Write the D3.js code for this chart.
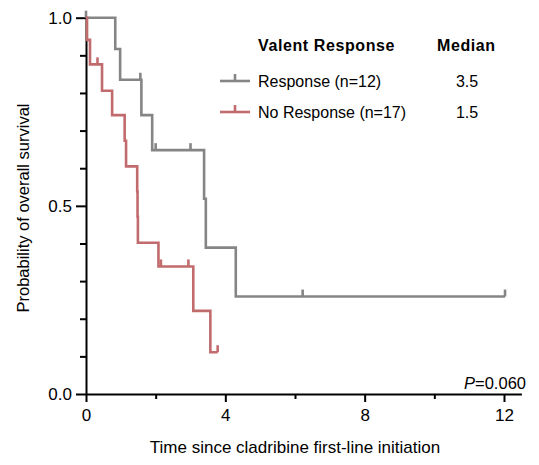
<!DOCTYPE html>
<html>
<head>
<meta charset="utf-8">
<script src="https://cdn.jsdelivr.net/npm/d3@7"></script>
<style>
  body { margin: 0; background: #fff; }
  text { font-family: "Liberation Sans", Arial, sans-serif; }
</style>
</head>
<body>
<script>
// survival steps (time, probability)
let respTimes = [0, 0.84, 0.98, 1.59, 1.9, 3.39, 3.44, 4.3, 12.03];
let respSurv = [1.0, 0.917, 0.835, 0.741, 0.648, 0.519, 0.389, 0.259, 0.259];
let respCensor = [0, 1.56, 2.0, 3.0, 6.22, 12.03];

let noTimes = [0, 0.03, 0.115, 0.46, 0.75, 1.11, 1.15, 1.47, 1.48, 1.49, 2.08, 3.08, 3.57, 3.78];
let noSurv = [1.0, 0.941, 0.876, 0.806, 0.741, 0.673, 0.605, 0.538, 0.471, 0.402, 0.339, 0.221, 0.111, 0.111];
let noCensor = [0.33, 2.15, 2.94, 3.78];

let groups = ["Response (n=12)", "No Response (n=17)"];
let medians = ["3.5", "1.5"];
let colors = ["#858585", "#c26b6d"];

let xMajor = [0, 4, 8, 12];
let xMinor = [2, 6, 10];
let yMajor = [0, 0.5, 1.0];
let yMinor = [0.1, 0.2, 0.3, 0.4, 0.6, 0.7, 0.8, 0.9];

let svg = d3.select("body").append("svg")
	.attr("width", 539)
	.attr("height", 465);

let x = d3.scaleLinear().domain([0, 12.5]).range([86, 521.4]);
let y = d3.scaleLinear().domain([0, 1]).range([394, 17.7]);

// survival curves
let series = [
	{ times: respTimes, surv: respSurv, censor: respCensor },
	{ times: noTimes, surv: noSurv, censor: noCensor }
];

let line = d3.line()
	.x(d => x(d[0]))
	.y(d => y(d[1]))
	.curve(d3.curveStepAfter);

// value of the curve at a given time (for censor ticks)
function survAt(s, t) {
	let v = s.surv[0];
	s.times.forEach((tt, i) => { if (tt <= t) v = s.surv[i]; });
	return v;
}

// axes
let yG = svg.append("g").attr("transform", `translate(${x(0)},0)`);
yG.call(d3.axisLeft(y).tickValues(yMajor).tickFormat(d3.format(".1f")).tickSize(10).tickSizeOuter(0).tickPadding(4));
yG.append("g").call(d3.axisLeft(y).tickValues(yMinor).tickFormat("").tickSize(6).tickSizeOuter(0))
	.select(".domain").remove();

let xG = svg.append("g").attr("transform", `translate(0,${y(0)})`);
xG.call(d3.axisBottom(x).tickValues(xMajor).tickSize(8).tickSizeOuter(0).tickPadding(7));
xG.append("g").call(d3.axisBottom(x).tickValues(xMinor).tickFormat("").tickSize(5).tickSizeOuter(0))
	.select(".domain").remove();

svg.selectAll(".domain, .tick line").attr("stroke", "#000").attr("stroke-width", 2);
svg.selectAll(".tick text").attr("font-size", 17).attr("fill", "#000")
	.attr("font-family", "Liberation Sans, Arial, sans-serif");

series.forEach((s, i) => {
	let pts = s.times.map((t, j) => [t, s.surv[j]]);
	svg.append("path")
		.datum(pts)
		.attr("fill", "none")
		.attr("stroke", colors[i])
		.attr("stroke-width", 2.6)
		.attr("d", line);

	svg.selectAll(null)
		.data(s.censor)
		.enter().append("line")
		.attr("x1", d => x(d)).attr("x2", d => x(d))
		.attr("y1", d => y(survAt(s, d)))
		.attr("y2", d => y(survAt(s, d)) - 7)
		.attr("stroke", colors[i])
		.attr("stroke-width", 2.6);
});

// axis titles
svg.append("text")
	.attr("x", 295).attr("y", 453)
	.attr("text-anchor", "middle")
	.attr("font-size", 17)
	.text("Time since cladribine first-line initiation");

svg.append("text")
	.attr("transform", "translate(29,208) rotate(-90)")
	.attr("text-anchor", "middle")
	.attr("font-size", 16.5)
	.text("Probability of overall survival");

let pText = svg.append("text")
	.attr("x", 526).attr("y", 389)
	.attr("text-anchor", "end")
	.attr("font-size", 16.5);
pText.append("tspan").attr("font-style", "italic").text("P");
pText.append("tspan").text("=0.060");

// legend
let lg = svg.append("g");
lg.append("text").attr("x", 258).attr("y", 51).attr("font-size", 16)
	.attr("font-weight", "bold").attr("letter-spacing", 0.6).text("Valent Response");
lg.append("text").attr("x", 437).attr("y", 51).attr("font-size", 16)
	.attr("font-weight", "bold").attr("letter-spacing", 0.6).text("Median");

groups.forEach((g, i) => {
	let ly = 81 + i * 31;
	lg.append("line").attr("x1", 220).attr("x2", 250).attr("y1", ly).attr("y2", ly)
		.attr("stroke", colors[i]).attr("stroke-width", 2.6);
	lg.append("line").attr("x1", 235).attr("x2", 235).attr("y1", ly).attr("y2", ly - 7)
		.attr("stroke", colors[i]).attr("stroke-width", 2.6);
	lg.append("text").attr("x", 258).attr("y", ly + 6).attr("font-size", 16).text(g);
	lg.append("text").attr("x", 467).attr("y", ly + 6).attr("font-size", 16)
		.attr("text-anchor", "middle").text(medians[i]);
});
</script>
</body>
</html>
